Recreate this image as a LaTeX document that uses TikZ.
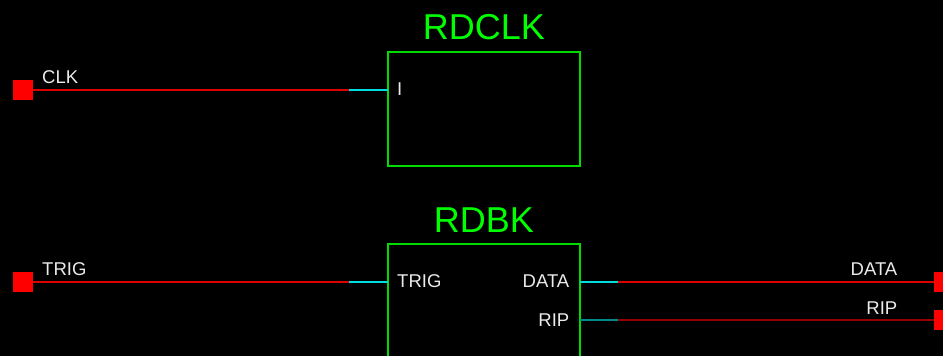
\documentclass[tikz,border=0pt]{standalone}
\usepackage{fontspec}
\setmainfont{Liberation Sans}
\definecolor{netred}{RGB}{220,0,0}
\definecolor{netdred}{RGB}{150,0,0}
\definecolor{pincyan}{RGB}{0,220,220}
\definecolor{pinteal}{RGB}{0,140,140}
\definecolor{boxgreen}{RGB}{0,220,0}
\definecolor{titlegreen}{RGB}{0,255,0}
\definecolor{txt}{RGB}{235,235,235}
\begin{document}
\begin{tikzpicture}[x=1pt,y=-1pt,
  blk/.style={draw=boxgreen,line width=2pt,inner sep=0pt},
  title/.style={text=titlegreen,font=\fontsize{36}{36}\selectfont,anchor=base,inner sep=0pt},
  lbl/.style={text=txt,font=\fontsize{18.5}{18.5}\selectfont,inner sep=0pt},
  port/.style={fill=red,minimum size=20pt,inner sep=0pt},
  net/.style={draw=netred,line width=2pt},
  dnet/.style={draw=netdred,line width=2pt},
  pinline/.style={draw=pincyan,line width=2pt},
  dpinline/.style={draw=pinteal,line width=2pt}]
\useasboundingbox (0,0) rectangle (943,356);
\fill[black] (0,0) rectangle (943,356);
\clip (0,0) rectangle (943,356);
% blocks
\draw[blk] (388,52) rectangle (580,166);
\draw[blk] (388,244) rectangle (580,400);
\node[title] (t1) at (484,39) {RDCLK};
\node[title] (t2) at (484,232) {RDBK};
% ports
\node[port] (pclk) at (23,89.5) {};
\node[port] (ptrig) at (23,281.5) {};
\node[port] (pdata) at (944,281.5) {};
\node[port] (prip) at (944,320) {};
% pin coordinates
\coordinate (iI) at (388,90);
\coordinate (iIs) at (349,90);
\coordinate (iT) at (388,282);
\coordinate (iTs) at (349,282);
\coordinate (oD) at (580,282);
\coordinate (oDs) at (618,282);
\coordinate (oR) at (580,320);
\coordinate (oRs) at (618,320);
% nets
\draw[net] (pclk.east |- iIs) -- (iIs);
\draw[pinline] (iIs) -- (iI);
\draw[net] (ptrig.east |- iTs) -- (iTs);
\draw[pinline] (iTs) -- (iT);
\draw[pinline] (oD) -- (oDs);
\draw[net] (oDs) -- (pdata.west |- oDs);
\draw[dpinline] (oR) -- (oRs);
\draw[dnet] (oRs) -- (prip.west |- oRs);
% labels
\node[lbl,anchor=base west] (lclk) at (42,83.5) {CLK};
\node[lbl,anchor=base west] (ltrig) at (42,275.5) {TRIG};
\node[lbl,anchor=base east] (ldata) at (897.5,275.5) {DATA};
\node[lbl,anchor=base east] (lrip) at (897.5,314) {RIP};
\node[lbl,anchor=base west] (pI) at (397,95.5) {I};
\node[lbl,anchor=base west] (pT) at (397,287.5) {TRIG};
\node[lbl,anchor=base east] (pD) at (569.5,287.5) {DATA};
\node[lbl,anchor=base east] (pR) at (569.5,326.5) {RIP};
\end{tikzpicture}
\end{document}
